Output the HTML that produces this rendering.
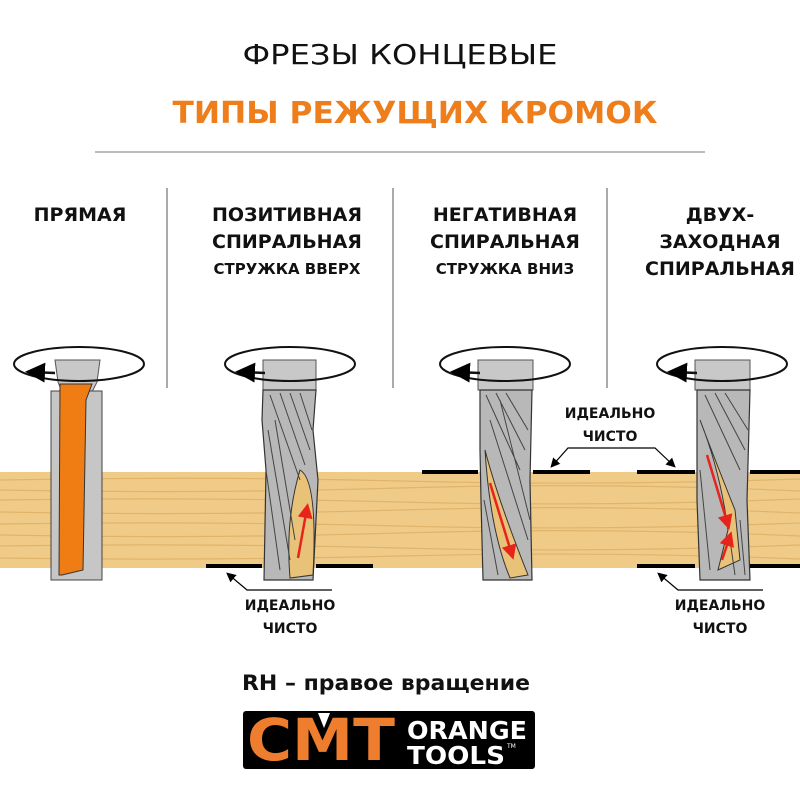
<!DOCTYPE html>
<html><head><meta charset="utf-8"><style>
body{margin:0;background:#fff;width:800px;height:800px;overflow:hidden}
svg{display:block}
text{font-family:"DejaVu Sans","Liberation Sans",sans-serif}
</style></head><body>
<svg width="800" height="800" viewBox="0 0 800 800">
<defs>
<pattern id="wood" width="800" height="96" patternUnits="userSpaceOnUse" y="472">
<rect width="800" height="96" fill="#f0cb88"/>
<g stroke="#dcae62" stroke-width="1.2" fill="none" opacity="0.8">
<path d="M0 8 Q200 4 400 9 T800 7"/><path d="M0 18 Q200 22 400 16 T800 19"/>
<path d="M0 28 Q200 25 400 30 T800 27"/><path d="M0 40 Q200 44 400 38 T800 41"/>
<path d="M0 52 Q200 49 400 54 T800 51"/><path d="M0 63 Q200 67 400 61 T800 64"/>
<path d="M0 74 Q200 71 400 76 T800 73"/><path d="M0 86 Q200 89 400 84 T800 87"/>
</g>
</pattern>
<marker id="ah" markerWidth="8" markerHeight="8" refX="6" refY="4" orient="auto"><path d="M0 0L8 4L0 8z" fill="#000"/></marker>
<marker id="rh" markerWidth="6" markerHeight="6" refX="4" refY="3" orient="auto"><path d="M0 0L6 3L0 6z" fill="#e8231b"/></marker>
</defs>
<text x="400" y="64" font-size="28" text-anchor="middle" fill="#111" textLength="315" lengthAdjust="spacingAndGlyphs">ФРЕЗЫ КОНЦЕВЫЕ</text>
<text x="415" y="123" font-size="30" font-weight="bold" text-anchor="middle" fill="#ee7d1b" textLength="485" lengthAdjust="spacingAndGlyphs">ТИПЫ РЕЖУЩИХ КРОМОК</text>
<line x1="95" y1="152" x2="705" y2="152" stroke="#bbb" stroke-width="2"/>
<g stroke="#aaa" stroke-width="2"><line x1="167" y1="188" x2="167" y2="388"/><line x1="393" y1="188" x2="393" y2="388"/><line x1="607" y1="188" x2="607" y2="388"/></g>
<g font-size="19" font-weight="bold" fill="#111" text-anchor="middle">
<text x="80" y="221">ПРЯМАЯ</text>
<text x="287" y="221">ПОЗИТИВНАЯ</text><text x="287" y="248">СПИРАЛЬНАЯ</text><text x="287" y="274" font-size="15">СТРУЖКА ВВЕРХ</text>
<text x="505" y="221">НЕГАТИВНАЯ</text><text x="505" y="248">СПИРАЛЬНАЯ</text><text x="505" y="274" font-size="15">СТРУЖКА ВНИЗ</text>
<text x="720" y="221">ДВУХ-</text><text x="720" y="248">ЗАХОДНАЯ</text><text x="720" y="275">СПИРАЛЬНАЯ</text>
</g>
<rect x="0" y="472" width="800" height="96" fill="url(#wood)"/>
<path d="M55 360 L100 360 L97 382 L92 392 L62 392 L58 382Z" fill="#c8c8c8" stroke="#555"/>
<rect x="51" y="391" width="51" height="189" fill="#c6c6c6" stroke="#444"/>
<path d="M60 384 L92 384 L86 400 L83 570 L62 575 L59 575Z" fill="#ef7d13" stroke="#333"/>
<rect x="263" y="360" width="53" height="30" fill="#c8c8c8" stroke="#555"/>
<rect x="478" y="360" width="55" height="30" fill="#c8c8c8" stroke="#555"/>
<rect x="695" y="360" width="55" height="30" fill="#c8c8c8" stroke="#555"/>
<g stroke="#333" stroke-width="1.2">
<path d="M263 390 L316 390 L313 430 L318 480 L313 580 L264 580 L266 470 L262 420Z" fill="#b8b8b8"/>
<path d="M480 390 L532 390 L530 480 L532 580 L483 580 L481 500 L480 450Z" fill="#b8b8b8"/>
<path d="M697 390 L750 390 L747 500 L750 580 L700 580 L697 500Z" fill="#b8b8b8"/>
</g>
<path d="M300 470 Q318 480 313 575 L290 578 Q285 520 300 470Z" fill="#e9c27a" stroke="#333"/>
<path d="M485 450 Q498 500 528 575 L510 578 Q490 530 485 450Z" fill="#e9c27a" stroke="#333"/>
<path d="M700 420 Q720 470 728 530 L718 570 L740 560 L735 510 Q715 460 700 420Z" fill="#e9c27a" stroke="#333"/>
<g stroke="#444" stroke-width="1" fill="none">
<path d="M270 395 L300 480 M280 393 L305 465 M290 393 L310 450 M300 393 L312 430 M268 430 L290 560 M266 470 L280 570 M275 420 L295 540"/>
<path d="M486 395 L520 470 M496 393 L525 450 M506 393 L528 430 M490 420 L528 540 M500 400 L530 520 M484 500 L498 575"/>
<path d="M705 395 L740 470 M715 393 L745 450 M725 393 L748 430 M700 470 L710 570 M740 520 L745 575 M730 540 L735 575"/>
</g>
<g stroke="#e8231b" stroke-width="2.5" marker-end="url(#rh)">
<line x1="298" y1="558" x2="307" y2="508"/>
<line x1="490" y1="483" x2="512" y2="555"/>
<line x1="707" y1="455" x2="728" y2="525"/>
<line x1="722" y1="560" x2="730" y2="536"/>
</g>
<g fill="none" stroke="#111" stroke-width="2">
<ellipse cx="79" cy="364" rx="65" ry="17"/><ellipse cx="290" cy="364" rx="65" ry="17"/>
<ellipse cx="505" cy="364" rx="65" ry="17"/><ellipse cx="722" cy="364" rx="65" ry="17"/>
</g>
<g stroke="#111" stroke-width="2.5" marker-end="url(#ah)">
<line x1="55" y1="373" x2="30" y2="372"/><line x1="265" y1="373" x2="240" y2="372"/>
<line x1="480" y1="373" x2="455" y2="372"/><line x1="697" y1="373" x2="672" y2="372"/>
</g>
<g stroke="#000" stroke-width="4">
<line x1="206" y1="566" x2="262" y2="566"/><line x1="316" y1="566" x2="373" y2="566"/>
<line x1="422" y1="472" x2="478" y2="472"/><line x1="533" y1="472" x2="590" y2="472"/>
<line x1="637" y1="472" x2="695" y2="472"/><line x1="750" y1="472" x2="800" y2="472"/>
<line x1="637" y1="566" x2="695" y2="566"/><line x1="750" y1="566" x2="800" y2="566"/>
</g>
<g stroke="#000" stroke-width="1.2" fill="none" marker-end="url(#ah)">
<path d="M332 590 L247 590 L228 574"/>
<path d="M572 448 L568 448 L552 466"/>
<path d="M572 448 L655 448 L674 466"/>
<path d="M763 590 L678 590 L659 574"/>
</g>
<g font-size="14" font-weight="bold" fill="#111" text-anchor="middle">
<text x="290" y="610">ИДЕАЛЬНО</text><text x="290" y="633">ЧИСТО</text>
<text x="610" y="418">ИДЕАЛЬНО</text><text x="610" y="441">ЧИСТО</text>
<text x="720" y="610">ИДЕАЛЬНО</text><text x="720" y="633">ЧИСТО</text>
</g>
<text x="386" y="690" font-size="21" font-weight="bold" text-anchor="middle" fill="#111" textLength="288" lengthAdjust="spacingAndGlyphs">RH – правое вращение</text>
<rect x="243" y="711" width="292" height="58" rx="3" fill="#000"/>
<text x="247" y="760" font-size="58" font-weight="bold" fill="#ee7d2e" textLength="148" lengthAdjust="spacingAndGlyphs">CMT</text>
<path d="M318 713 L330 713 L324 728Z" fill="#fff"/>
<text x="407" y="739" font-size="25" font-weight="bold" fill="#fff" textLength="120" lengthAdjust="spacingAndGlyphs">ORANGE</text>
<text x="407" y="764" font-size="25" font-weight="bold" fill="#fff" textLength="98" lengthAdjust="spacingAndGlyphs">TOOLS</text>
<text x="507" y="748" font-size="6" fill="#fff">TM</text>
</svg>
</body></html>
